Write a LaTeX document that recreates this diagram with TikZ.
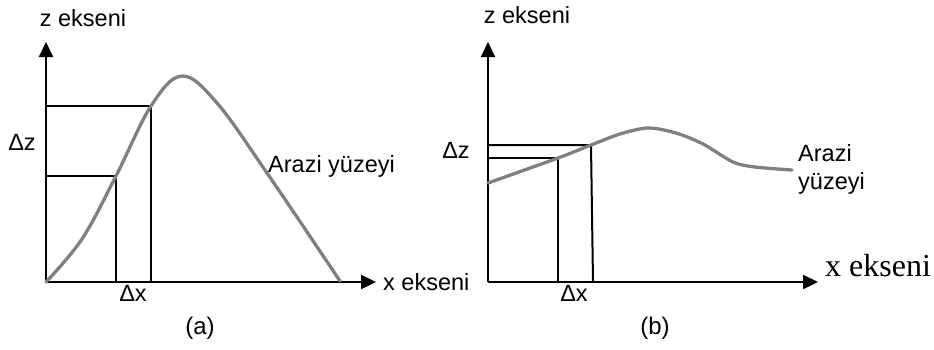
\documentclass[tikz,border=0pt]{standalone}
\usepackage{fontspec}
\setmainfont{Liberation Sans}
\newfontfamily\timesfont{Liberation Serif}
\usetikzlibrary{arrows.meta}

\definecolor{surfgray}{RGB}{128,128,128}

\begin{document}
\begin{tikzpicture}
[
	x=1pt, y=-1pt,
	axis/.style={line width=2.2pt,-{Triangle[length=15pt,width=14pt]}},
	box/.style={line width=2pt},
	surface/.style={line width=3.3pt,surfgray,line join=round,line cap=round},
	lbl/.style={font=\fontsize{23.5}{28}\selectfont,inner sep=0pt}
]

	\useasboundingbox (0,0) rectangle (934,349);

	% ---------- (a) ----------
	% axes
	\coordinate (oA) at (46,282);
	\coordinate (ztipA) at (46,42);
	\coordinate (xtipA) at (376,282);
	\draw[axis] (oA) -- (ztipA);
	\draw[axis] (oA) -- (xtipA);
	\node[lbl] (zlabA) at (83,18) {z ekseni};
	\node[lbl,anchor=west] (xlabA) at (383,282) {x ekseni};

	% steps on the slope
	\coordinate (pA1) at (116,176);
	\coordinate (pA2) at (151,106);
	\draw[box] (46,176) -- (pA1) -- (116,282);
	\draw[box] (46,106) -- (pA2) -- (151,282);
	\node[lbl] (dzA) at (22,142) {Δz};
	\node[lbl] (dxA) at (133,293) {Δx};

	% terrain
	\draw[surface] plot[smooth,tension=0.6] coordinates
		{(46,282) (82,239) (pA1) (pA2) (182,76) (217,103) (267,173) (340,281)};
	\node[lbl,anchor=west] (surfA) at (268,166) {Arazi yüzeyi};

	\node[lbl,font=\fontsize{24}{28}\selectfont] (capA) at (200,328) {(a)};

	% ---------- (b) ----------
	% axes
	\coordinate (oB) at (488,282);
	\coordinate (ztipB) at (488,42);
	\coordinate (xtipB) at (818,282);
	\draw[axis] (oB) -- (ztipB);
	\draw[axis] (oB) -- (xtipB);
	\node[lbl] (zlabB) at (527,15) {z ekseni};
	\node[lbl,anchor=west,font=\timesfont\fontsize{32}{36}\selectfont] (xlabB) at (825,266) {x ekseni};

	% steps on the slope
	\coordinate (pB1) at (558,158);
	\coordinate (pB2) at (591,145);
	\draw[box] (488,158) -- (pB1) -- (558,282);
	\draw[box] (488,145) -- (pB2) -- (593,282);
	\node[lbl] (dzB) at (456,150) {Δz};
	\node[lbl] (dxB) at (574,293) {Δx};

	% terrain
	\draw[surface] plot[smooth,tension=0.5] coordinates
		{(488,183) (pB1) (pB2) (620,134) (648,128) (676,133) (703,144) (733,162) (755,167) (792,170)};
	\node[lbl,anchor=north west,align=left] (surfB) at (798,144) {Arazi\\yüzeyi};

	\node[lbl,font=\fontsize{24}{28}\selectfont] (capB) at (655,328) {(b)};

\end{tikzpicture}
\end{document}
